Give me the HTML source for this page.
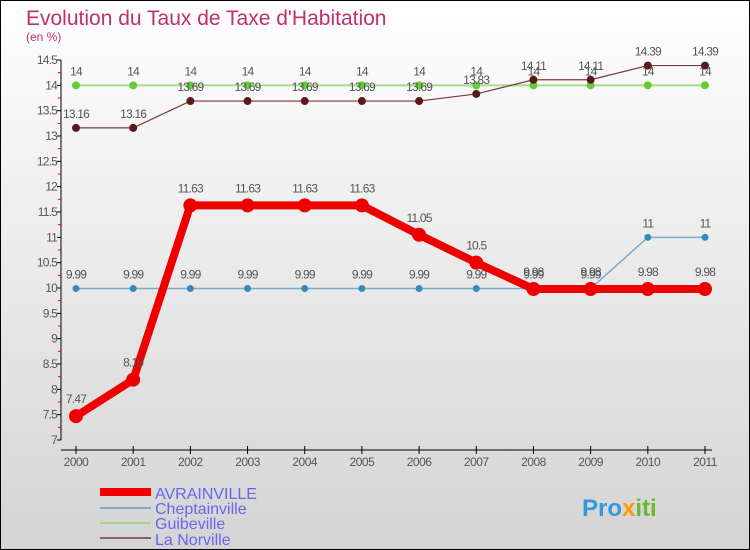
<!DOCTYPE html>
<html><head><meta charset="utf-8"><style>
body{margin:0;width:750px;height:550px;overflow:hidden;font-family:"Liberation Sans",sans-serif}
svg{display:block}
</style></head><body>
<svg width="750" height="550">
<defs><linearGradient id="bg" x1="0" y1="0" x2="0" y2="1"><stop offset="0" stop-color="#ffffff"/><stop offset="1" stop-color="#d4d4d4"/></linearGradient></defs>
<rect x="0.5" y="0.5" width="749" height="549" fill="url(#bg)" stroke="#000"/>
<text x="26" y="25" font-size="21" fill="#c0306a">Evolution du Taux de Taxe d'Habitation</text>
<text x="26" y="41" font-size="12" fill="#c0306a">(en %)</text>
<g id="axes"></g><g id="series"></g>
<g>
<rect x="100" y="488" width="51" height="8" fill="#e00"/>
<text x="155" y="499" font-size="16" fill="#6666ee">AVRAINVILLE</text>
<rect x="100" y="507" width="51" height="2" fill="#7aabcc"/>
<text x="155" y="514" font-size="16" fill="#6666ee">Cheptainville</text>
<rect x="100" y="522" width="51" height="2" fill="#9fd68a"/>
<text x="155" y="529" font-size="16" fill="#6666ee">Guibeville</text>
<rect x="100" y="537" width="51" height="2" fill="#8a6060"/>
<text x="155" y="545" font-size="16" fill="#6666ee">La Norville</text>
</g>
<text x="582" y="516" font-size="24" font-weight="bold" fill="#3399dd">Pro<tspan fill="#ff9900">x</tspan><tspan fill="#66bb33">iti</tspan></text>
</svg>
<script>
const years=[2000,2001,2002,2003,2004,2005,2006,2007,2008,2009,2010,2011];
const yTicks=[7,7.5,8,8.5,9,9.5,10,10.5,11,11.5,12,12.5,13,13.5,14,14.5];
const avrainville=[7.47,8.19,11.63,11.63,11.63,11.63,11.05,10.5,9.98,9.98,9.98,9.98];
const cheptainville=[9.99,9.99,9.99,9.99,9.99,9.99,9.99,9.99,9.99,9.99,11,11];
const guibeville=[14,14,14,14,14,14,14,14,14,14,14,14];
const laNorville=[13.16,13.16,13.69,13.69,13.69,13.69,13.69,13.83,14.11,14.11,14.39,14.39];
const NS="http://www.w3.org/2000/svg";
const X=i=>76+i*(705-76)/11;
const Y=v=>440-(v-7)*(380/7.5);
function mk(tag,attrs,parent,txt){const e=document.createElementNS(NS,tag);for(const k in attrs)e.setAttribute(k,attrs[k]);if(txt!==undefined)e.textContent=txt;parent.appendChild(e);return e;}
const ax=document.getElementById('axes');
let l=mk('line',{x1:61,y1:60,x2:61,y2:440,stroke:'#000'},ax);


l=mk('line',{x1:61,y1:450,x2:712,y2:450,stroke:'#000'},ax);


yTicks.forEach((t,i)=>{const y=Y(t);
 mk('line',{x1:57,y1:y,x2:61,y2:y,stroke:'#000'},ax);
 if(i<yTicks.length-1)mk('line',{x1:58,y1:Y(t+0.25),x2:61,y2:Y(t+0.25),stroke:'#e00'},ax);
 const tx=mk('text',{x:57,y:y+4,'font-size':12,fill:'#555','text-anchor':'end','letter-spacing':'-0.8'},ax,String(t));
 
 });
years.forEach((yr,i)=>{const x=X(i);
 mk('line',{x1:x,y1:446,x2:x,y2:454,stroke:'#000'},ax);
 const tx=mk('text',{x:x,y:466,'font-size':12,fill:'#555','text-anchor':'middle','letter-spacing':'-0.5'},ax,String(yr));
 
 });
const sg=document.getElementById('series');
function series(vals,name,color,w,r,ptColor,off){
 const g=mk('g',{},sg);
 
 
 mk('polyline',{points:vals.map((v,i)=>X(i)+','+Y(v)).join(' '),fill:'none',stroke:color,'stroke-width':w,'stroke-linejoin':'round'},g);
 vals.forEach((v,i)=>{const c=mk('circle',{cx:X(i),cy:Y(v),r:r,fill:ptColor},g);
  
  
  const t=mk('text',{x:X(i),y:Y(v)-off,'font-size':12,fill:'#555','text-anchor':'middle','letter-spacing':'-0.8'},g,String(v));
  
  });
}
series(guibeville,'guibeville','#a8dc90',2,4,'#66cc33',10);
series(laNorville,'la-norville','#7a3a3a',1.2,4,'#5a1a1a',10);
series(cheptainville,'cheptainville','#7aabcc',1.5,3.5,'#3a88c0',10);
series(avrainville,'avrainville','#ee0000',8,7,'#ee0000',13);
</script>
</body></html>
